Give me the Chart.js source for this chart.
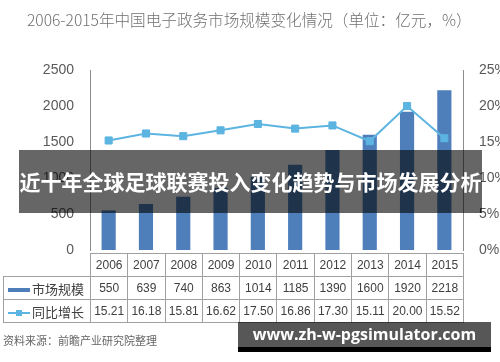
<!DOCTYPE html>
<html>
<head>
<meta charset="utf-8">
<script src="https://cdn.jsdelivr.net/npm/chart.js@4.4.1/dist/chart.umd.min.js"></script>
<style>
  html, body { margin: 0; padding: 0; background: #fff; }
  #wrap { position: relative; width: 500px; height: 362px; overflow: hidden; font-family: "Liberation Sans", Arial, "Noto Sans CJK SC", sans-serif; }
  #c { position: absolute; left: 0; top: 0; }
  #title { position: absolute; left: 27px; top: 8px; font: 300 15.6px "Noto Sans CJK SC", sans-serif; color: #707070; white-space: nowrap; }
  #tbl { position: absolute; left: 3px; top: 253px; border-collapse: collapse; table-layout: fixed; font-size: 12px; color: #404040; }
  #tbl td { border: 1px solid #a0a0a0; height: 22px; padding: 0; text-align: center; white-space: nowrap; overflow: hidden; }
  #tbl td.blank { border: none; border-bottom: 1px solid #a0a0a0; }
  #tbl td.lab { text-align: left; font: 13px "Noto Sans CJK SC", sans-serif; }
  .sw { display: inline-block; position: relative; width: 22px; height: 10px; margin: 0 2px 0 4px; vertical-align: middle; }
  .sw.bar span { position: absolute; left: 0; top: 3px; width: 22px; height: 4px; background: #4f7fbb; }
  .sw.line span.l { position: absolute; left: 0; top: 4px; width: 22px; height: 2px; background: #5cb4e0; }
  .sw.line span.m { position: absolute; left: 8px; top: 2px; width: 6px; height: 6px; background: #5cb4e0; }
  #src { position: absolute; left: 3px; top: 332px; font: 11px "Noto Sans CJK SC", sans-serif; color: #666; white-space: nowrap; }
  #banner { position: absolute; left: 19px; top: 150px; width: 463px; height: 63px; background: rgba(0,0,0,0.6); color: #fff;
            font: bold 21px "Noto Sans CJK SC", sans-serif; line-height: 63px; text-align: center; white-space: nowrap; }
  #wm { position: absolute; left: 238px; top: 322px; width: 253px; height: 25px; background: rgba(0,0,0,0.66); color: #fff;
        font: bold 16px "Open Sans", sans-serif; line-height: 25px; text-align: center; white-space: nowrap; }
  #wmline { position: absolute; left: 238px; top: 347px; width: 253px; height: 5px; background: #000; }
</style>
</head>
<body>
<div id="wrap">
  <canvas id="c" width="500" height="362"></canvas>
  <div id="title">2006-2015年中国电子政务市场规模变化情况（单位：亿元，%）</div>
  <table id="tbl"></table>
  <div id="src">资料来源：前瞻产业研究院整理</div>
  <div id="banner">近十年全球足球联赛投入变化趋势与市场发展分析</div>
  <div id="wm">www.zh-w-pgsimulator.com</div>
  <div id="wmline"></div>
</div>
<script>
const years = ['2006', '2007', '2008', '2009', '2010', '2011', '2012', '2013', '2014', '2015'];
const marketSize = [550, 639, 740, 863, 1014, 1185, 1390, 1600, 1920, 2218];
const growth = [15.21, 16.18, 15.81, 16.62, 17.50, 16.86, 17.30, 15.11, 20.00, 15.52];
const seriesNames = ['市场规模', '同比增长'];

const barColor = '#4f7fbb';
const lineColor = '#5cb4e0';
const axisColor = '#8c8c8c';
const tickFont = { family: '"Liberation Sans", Arial, sans-serif', size: 14 };

const ctx = document.getElementById('c');
const chart = new Chart(ctx, {
    type: 'bar',
    data: {
        labels: years,
        datasets: [{
            type: 'line',
            label: seriesNames[1],
            data: growth,
            yAxisID: 'y1',
            borderColor: lineColor,
            borderWidth: 2,
            pointStyle: 'rect',
            pointRadius: 5,
            pointBackgroundColor: lineColor,
            pointBorderColor: lineColor,
            pointBorderWidth: 1,
            order: 0
        }, {
            label: seriesNames[0],
            data: marketSize,
            yAxisID: 'y',
            backgroundColor: barColor,
            categoryPercentage: 1,
            barPercentage: 0.38,
            order: 1
        }]
    },
    options: {
        responsive: false,
        animation: false,
        layout: { padding: { top: 70, bottom: 112, left: 0, right: 0 } },
        plugins: { legend: { display: false }, tooltip: { enabled: false } },
        scales: {
            x: { display: false },
            y: {
                position: 'left',
                min: 0, max: 2500,
                ticks: { stepSize: 500, color: '#595959', font: tickFont, padding: 8,
                         callback: function (v) { return String(v); } },
                grid: { display: false },
                border: { color: axisColor },
                afterFit: function (scale) { scale.width = 90; }
            },
            y1: {
                position: 'right',
                min: 0, max: 25,
                ticks: { stepSize: 5, color: '#595959', font: tickFont, padding: 8,
                         callback: function (v) { return v + '%'; } },
                grid: { display: false },
                border: { color: axisColor },
                afterFit: function (scale) { scale.width = 37; }
            }
        }
    }
});

// data table under the plot, columns lined up with the chart area
function buildTable() {
    const area = chart.chartArea;
    const colW = (area.right - area.left) / years.length;
    const tbl = document.getElementById('tbl');
    let html = '<colgroup><col style="width:' + (area.left - 3) + 'px">';
    years.forEach(() => { html += '<col style="width:' + colW + 'px">'; });
    html += '</colgroup>';
    html += '<tr><td class="blank"></td>' + years.map(y => '<td>' + y + '</td>').join('') + '</tr>';
    html += '<tr><td class="lab"><span class="sw bar"><span></span></span>' + seriesNames[0] + '</td>' +
        marketSize.map(v => '<td>' + v + '</td>').join('') + '</tr>';
    html += '<tr><td class="lab"><span class="sw line"><span class="l"></span><span class="m"></span></span>' + seriesNames[1] + '</td>' +
        growth.map(v => '<td>' + v.toFixed(2) + '</td>').join('') + '</tr>';
    tbl.innerHTML = html;
    tbl.style.width = (area.right - 3) + 'px';
}
buildTable();
</script>
</body>
</html>
